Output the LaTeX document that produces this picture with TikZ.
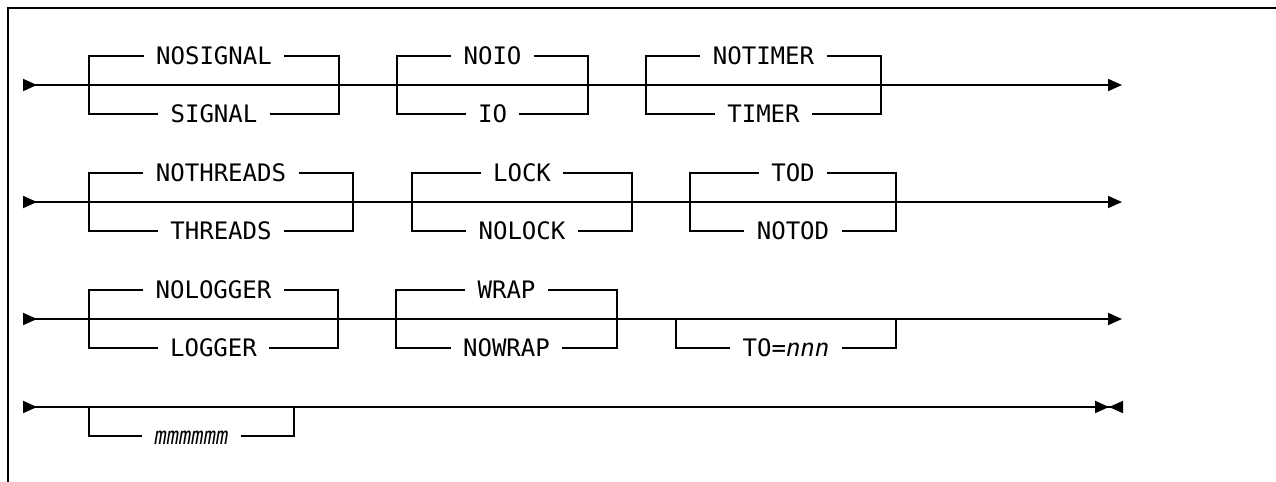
\documentclass[tikz,border=0pt]{standalone}
\usepackage{fontspec}
\usepackage{graphicx}
\usetikzlibrary{arrows.meta}
\newfontfamily\railfont{DejaVu Sans Mono}

\begin{document}
\begin{tikzpicture}[x=0.02cm,y=-0.02cm,
  rail/.style={line width=1.1pt},
  opt/.style={font=\railfont\fontsize{13.7pt}{16pt}\selectfont,inner xsep=0.24cm,inner ysep=0pt,text height=10pt,text depth=0pt},
  row/.style={rail,arrows={{Triangle[length=0.28cm,width=0.24cm,reversed]}-{Triangle[length=0.28cm,width=0.24cm]}}},
  lastrow/.style={rail,arrows={{Triangle[length=0.28cm,width=0.24cm,reversed]}-{Triangle[length=0.28cm,width=0.24cm,sep=0pt] Triangle[length=0.28cm,width=0.24cm,reversed]}}}]
\useasboundingbox (0,0) rectangle (1276,481);
\draw[line width=1.7pt] (8,490) -- (8,8) -- (1290,8);
% first row
\coordinate (r1in) at (23,85);
\coordinate (r1out) at (1122,85);
\draw[row] (r1in) -- (r1out);
\node[opt] (nosig) at (214,56) {NOSIGNAL};
\node[opt] (sig) at (214,114) {SIGNAL};
\coordinate (sigl) at (89,85);
\coordinate (sigr) at (339,85);
\draw[rail] (nosig) -| (sigl) |- (sig);
\draw[rail] (nosig) -| (sigr) |- (sig);
\node[opt] (noio) at (492.5,56) {NOIO};
\node[opt] (io) at (492.5,114) {IO};
\coordinate (iol) at (397,85);
\coordinate (ior) at (588,85);
\draw[rail] (noio) -| (iol) |- (io);
\draw[rail] (noio) -| (ior) |- (io);
\node[opt] (notim) at (763.5,56) {NOTIMER};
\node[opt] (tim) at (763.5,114) {TIMER};
\coordinate (timl) at (646,85);
\coordinate (timr) at (881,85);
\draw[rail] (notim) -| (timl) |- (tim);
\draw[rail] (notim) -| (timr) |- (tim);
% second row
\coordinate (r2in) at (23,202);
\coordinate (r2out) at (1122,202);
\draw[row] (r2in) -- (r2out);
\node[opt] (nothr) at (221,173) {NOTHREADS};
\node[opt] (thr) at (221,231) {THREADS};
\coordinate (thrl) at (89,202);
\coordinate (thrr) at (353,202);
\draw[rail] (nothr) -| (thrl) |- (thr);
\draw[rail] (nothr) -| (thrr) |- (thr);
\node[opt] (lck) at (522,173) {LOCK};
\node[opt] (nolck) at (522,231) {NOLOCK};
\coordinate (lckl) at (412,202);
\coordinate (lckr) at (632,202);
\draw[rail] (lck) -| (lckl) |- (nolck);
\draw[rail] (lck) -| (lckr) |- (nolck);
\node[opt] (tod) at (793,173) {TOD};
\node[opt] (notod) at (793,231) {NOTOD};
\coordinate (todl) at (690,202);
\coordinate (todr) at (896,202);
\draw[rail] (tod) -| (todl) |- (notod);
\draw[rail] (tod) -| (todr) |- (notod);
% third row
\coordinate (r3in) at (23,319);
\coordinate (r3out) at (1122,319);
\draw[row] (r3in) -- (r3out);
\node[opt] (nolog) at (213.5,290) {NOLOGGER};
\node[opt] (log) at (213.5,348) {LOGGER};
\coordinate (logl) at (89,319);
\coordinate (logr) at (338,319);
\draw[rail] (nolog) -| (logl) |- (log);
\draw[rail] (nolog) -| (logr) |- (log);
\node[opt] (wrp) at (506.5,290) {WRAP};
\node[opt] (nowrp) at (506.5,348) {NOWRAP};
\coordinate (wrpl) at (396,319);
\coordinate (wrpr) at (617,319);
\draw[rail] (wrp) -| (wrpl) |- (nowrp);
\draw[rail] (wrp) -| (wrpr) |- (nowrp);
\node[opt] (tonum) at (786,348) {TO=\textit{nnn}};
\coordinate (tol) at (676,319);
\coordinate (tor) at (896,319);
\draw[rail] (tol) |- (tonum) -| (tor);
% last row
\coordinate (r4in) at (23,407);
\coordinate (r4out) at (1123,407);
\draw[lastrow] (r4in) -- (r4out);
\node[opt] (mval) at (191.5,436) {\itshape\scalebox{0.85}[1]{mmmmmm}};
\coordinate (mvall) at (89,407);
\coordinate (mvalr) at (294,407);
\draw[rail] (mvall) |- (mval) -| (mvalr);
\end{tikzpicture}
\end{document}
